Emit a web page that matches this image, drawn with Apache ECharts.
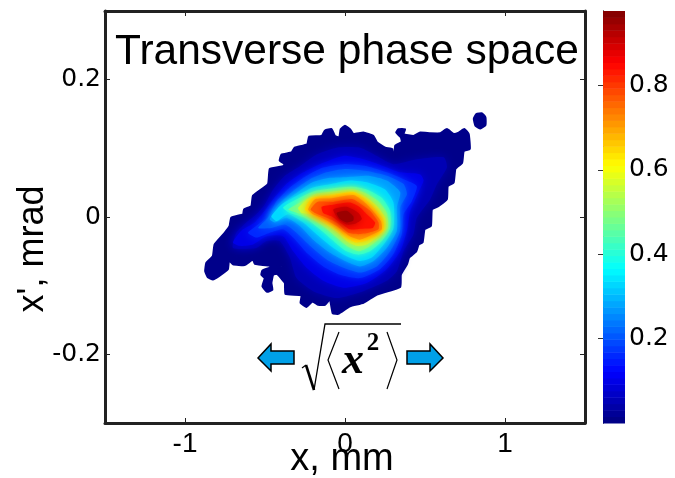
<!DOCTYPE html>
<html><head><meta charset="utf-8">
<style>html,body{margin:0;padding:0;background:#fff}#c{width:675px;height:478px}</style>
<script src="https://cdn.jsdelivr.net/npm/echarts@6/dist/echarts.min.js"></script>
</head><body><div id="c"></div>
<script>
// contour polygons: flat pairs of x (0.001 mm), x' (0.001 mrad)
const level01=[-874,-79,-857,-88,-826,-91,-788,-86,-732,-76,-725,-63,-700,-69,-627,-70,-575,-62,-564,-68,-470,-71,-387,-73,-470,-74,-516,-78,-523,-84,-502,-89,-516,-101,-487,-109,-454,-106,-460,-96,-449,-84,-424,-83,-376,-96,-372,-112,-272,-114,-278,-125,-240,-131,-203,-123,-167,-128,-125,-128,-94,-120,-77,-140,-42,-141,31,-130,115,-125,199,-113,345,-102,349,-84,387,-69,401,-59,445,-50,460,-40,485,-37,497,-18,537,-13,543,11,585,16,637,26,642,45,679,50,690,70,732,79,742,96,780,99,773,121,746,128,711,123,679,121,637,128,596,122,533,122,470,123,428,118,366,121,376,128,334,128,320,123,349,116,355,109,314,104,307,87,299,88,295,99,251,101,199,109,178,118,115,123,52,121,31,128,0,133,-27,128,-36,116,-63,118,-84,128,-125,126,-146,118,-224,117,-236,106,-314,101,-334,94,-397,91,-408,82,-376,77,-387,74,-470,70,-481,48,-575,31,-585,16,-631,11,-637,4,-711,-1,-721,-13,-752,-23,-815,-40,-826,-57,-867,-67];
const island01=[821,150,857,151,878,145,878,134,846,129,815,133,805,143];
const level05=[-700,-45,-679,-23,-617,-8,-554,4,-502,18,-449,40,-376,60,-282,74,-178,91,-52,101,94,101,199,89,303,77,449,84,617,87,637,72,575,48,533,26,449,-1,428,-25,366,-50,324,-79,261,-93,115,-108,-52,-118,-199,-108,-303,-89,-345,-59,-408,-35,-491,-35,-554,-45];
const level10=[-700,-37,-648,-20,-564,-8,-502,9,-449,26,-366,48,-261,65,-157,77,-10,89,115,84,240,74,345,65,470,62,491,53,449,31,408,9,387,-20,345,-50,261,-76,136,-96,-10,-103,-136,-93,-240,-74,-324,-50,-387,-28,-491,-28,-575,-40,-658,-42];
const level16=[-606,-23,-543,-11,-481,1,-428,23,-345,43,-240,60,-136,72,-10,77,136,74,261,65,366,55,449,45,418,23,366,4,355,-25,303,-54,219,-76,94,-89,-31,-84,-136,-72,-240,-52,-324,-30,-387,-18,-470,-23,-554,-30];
const level21=[-543,-16,-481,-1,-418,18,-324,38,-219,55,-115,65,0,70,136,67,261,60,366,48,387,33,345,14,345,-20,282,-50,199,-72,94,-81,-10,-74,-115,-62,-219,-42,-303,-23,-376,-11,-460,-16];
const level27=[-470,-3,-408,16,-314,33,-209,50,-94,57,10,58,146,60,261,53,345,36,324,14,324,-20,261,-45,178,-64,94,-72,0,-64,-94,-52,-199,-33,-282,-13,-366,-1,-439,-8];
const level33=[-460,1,-397,18,-303,31,-199,43,-84,48,31,53,146,50,251,40,303,21,303,-16,251,-37,167,-59,94,-64,10,-57,-73,-45,-178,-25,-261,-8,-355,4,-428,-6];
const level40=[-387,14,-303,26,-188,38,-73,42,52,44,136,40,230,28,282,9,282,-16,230,-35,157,-50,84,-55,10,-50,-63,-37,-157,-18,-251,-1,-345,6];
const level47=[-355,11,-282,21,-188,33,-73,37,52,40,136,34,209,23,261,6,268,-16,215,-31,146,-44,84,-50,10,-42,-52,-30,-136,-13,-240,1,-324,8];
const level55=[-293,13,-219,28,-94,33,52,37,136,28,199,16,251,-1,251,-18,199,-30,136,-40,73,-42,10,-35,-42,-23,-136,-8,-219,4,-272,6];
const level63=[-251,11,-209,27,-94,31,52,36,125,26,178,14,236,-3,240,-19,188,-28,125,-35,63,-37,10,-30,-52,-16,-146,-3,-209,4];
const level70=[-230,11,-188,26,-94,27,52,32,115,23,167,11,224,-6,230,-18,167,-26,94,-33,31,-28,-52,-13,-146,-1,-199,4];
const level77=[-215,11,-173,22,-73,22,48,26,105,18,157,9,209,-8,209,-18,146,-23,84,-25,21,-23,-52,-8,-136,1,-188,6];
const level84=[-146,15,-73,18,31,21,94,14,136,4,188,-8,173,-16,94,-17,31,-18,-31,-8,-84,1,-136,6];
const level90=[-73,11,10,15,84,6,105,-3,63,-10,10,-11,-42,-3];
const level95=[-52,6,10,9,52,1,52,-5,10,-8,-31,-3];

const contourValues=[0.01,0.01,0.05,0.10,0.16,0.21,0.27,0.33,0.40,0.47,0.55,0.63,0.70,0.77,0.84,0.90,0.95];
const contourShapes=[level01,island01,level05,level10,level16,level21,level27,level33,level40,level47,level55,level63,level70,level77,level84,level90,level95];
const xTicks=[-1,0,1];
const yTicks=[-0.2,0,0.2];
const barTicks=[0.2,0.4,0.6,0.8];
const barMax=0.977;
const barSteps=64;

function jet(v){
  const t=Math.min(1,Math.max(0,v/barMax))*4;
  const f=(c)=>Math.round(255*Math.min(1,Math.max(0,1.5-Math.abs(t-c))));
  return 'rgb('+f(3)+','+f(2)+','+f(1)+')';
}
const barData=[];
for(let i=0;i<barSteps;i++)barData.push([i*barMax/barSteps,(i+1)*barMax/barSteps]);

const AXC='#222';
const font='"Liberation Sans", Arial, sans-serif';
const wide='"DejaVu Sans", sans-serif';
const chart=echarts.init(document.getElementById('c'),null,{renderer:'canvas'});
const mirrorTick={inside:true,length:5,lineStyle:{color:AXC,width:1}};
chart.setOption({
  animation:false,
  backgroundColor:'#fff',
  title:{text:'Transverse phase space',left:115,top:31,padding:0,textStyle:{fontFamily:font,fontWeight:'normal',fontSize:42.5,color:'#000'}},
  grid:[
    {left:105,top:11,width:480,height:412,show:false,outerBoundsMode:'none'},
    {left:603,top:11,width:22,height:412,show:false,outerBoundsMode:'none'}
  ],
  xAxis:[
    {gridIndex:0,type:'value',position:'bottom',min:-1.5,max:1.5,splitLine:{show:false},
     axisLine:{lineStyle:{color:AXC,width:3},onZero:false},
     axisTick:{...mirrorTick,customValues:xTicks},
     axisLabel:{customValues:xTicks,fontFamily:font,fontSize:28,color:'#000',margin:7,formatter:v=>String(v)},
     name:'x, mm',nameLocation:'middle',nameGap:18,nameMoveOverlap:false,nameTextStyle:{fontFamily:font,fontSize:38,color:'#000',padding:[0,6,0,0]}},
    {gridIndex:1,type:'value',min:0,max:1,show:false},
    {gridIndex:0,type:'value',position:'top',min:-1.5,max:1.5,splitLine:{show:false},
     axisLine:{lineStyle:{color:AXC,width:3},onZero:false},
     axisTick:{...mirrorTick,customValues:xTicks},
     axisLabel:{show:false}}
  ],
  yAxis:[
    {gridIndex:0,type:'value',position:'left',min:-0.3,max:0.3,splitLine:{show:false},
     axisLine:{lineStyle:{color:AXC,width:3},onZero:false},
     axisTick:{...mirrorTick,customValues:yTicks},
     axisLabel:{customValues:yTicks,fontFamily:wide,fontSize:25,color:'#000',margin:4,formatter:v=>String(v)},
     name:"x', mrad",nameLocation:'middle',nameGap:54,nameMoveOverlap:false,nameTextStyle:{fontFamily:font,fontSize:36,color:'#000',padding:[0,64,0,0]}},
    {gridIndex:1,type:'value',min:0,max:barMax,position:'right',splitLine:{show:false},
     axisLine:{lineStyle:{color:'#333',width:1}},
     axisTick:{inside:true,length:5,lineStyle:{color:'#333',width:1},customValues:barTicks},
     axisLabel:{customValues:barTicks,fontFamily:wide,fontSize:25,color:'#000',margin:4,formatter:v=>v.toFixed(1)}},
    {gridIndex:0,type:'value',position:'right',min:-0.3,max:0.3,splitLine:{show:false},
     axisLine:{lineStyle:{color:AXC,width:3},onZero:false},
     axisTick:{...mirrorTick,customValues:yTicks},
     axisLabel:{show:false}},
    {gridIndex:1,type:'value',min:0,max:barMax,position:'left',splitLine:{show:false},
     axisLine:{lineStyle:{color:'#333',width:1}},
     axisTick:{inside:true,length:5,lineStyle:{color:'#333',width:1},customValues:barTicks},
     axisLabel:{show:false}}
  ],
  series:[
    {type:'custom',xAxisIndex:0,yAxisIndex:0,clip:true,silent:true,
     data:contourValues.map((v,i)=>[i,v]),
     encode:{x:[],y:[]},
     renderItem:(p,api)=>{
       const i=api.value(0),v=api.value(1),s=contourShapes[i],pts=[];
       for(let k=0;k<s.length;k+=2)pts.push(api.coord([s[k]/1000,s[k+1]/1000]));
       const c=jet(v),inner=i>=2;
       return {type:'polygon',shape:{points:pts,smooth:inner?0.2:0.12},
         style:{fill:c,stroke:inner?null:c,lineWidth:inner?0:2,shadowBlur:inner?10:0,shadowColor:c}};
     }},
    {type:'custom',xAxisIndex:1,yAxisIndex:1,silent:true,z:1,
     data:barData,
     encode:{y:[0,1]},
     renderItem:(p,api)=>{
       const a=api.coord([0,api.value(0)]),b=api.coord([1,api.value(1)]);
       return {type:'rect',shape:{x:a[0],y:b[1],width:b[0]-a[0],height:a[1]-b[1]+0.5},
         style:{fill:jet(api.value(0)+barMax/barSteps/2)}};
     }}
  ],
  graphic:[
    {type:'polyline',shape:{points:[[302,368],[306,365]]},style:{stroke:'#000',lineWidth:1.2,fill:'none'},z:60},
    {type:'polyline',shape:{points:[[306,365],[314,390]]},style:{stroke:'#000',lineWidth:2.6,fill:'none'},z:60},
    {type:'polyline',shape:{points:[[314,390],[325,324],[401,324]]},style:{stroke:'#000',lineWidth:1.3,fill:'none'},z:60},
    {type:'polyline',shape:{points:[[339,332],[328,360],[339,389]]},style:{stroke:'#000',lineWidth:1.2,fill:'none'},z:60},
    {type:'polyline',shape:{points:[[387,332],[397,360],[387,389]]},style:{stroke:'#000',lineWidth:1.2,fill:'none'},z:60},
    {type:'text',x:342,y:362,style:{text:'x',fontFamily:'"Liberation Serif",serif',fontStyle:'italic',fontWeight:'bold',fontSize:44,fill:'#000',align:'left',verticalAlign:'middle'},z:60},
    {type:'text',x:373,y:344,style:{text:'2',fontFamily:'"Liberation Serif",serif',fontWeight:'bold',fontSize:25,fill:'#000',align:'center',verticalAlign:'middle'},z:60},
    {type:'polygon',shape:{points:[[258,358],[271,344],[271,351],[294,351],[294,364],[271,364],[271,371]]},style:{fill:'#00a0e8',stroke:'#000',lineWidth:1.5},z:60},
    {type:'polygon',shape:{points:[[407,351],[430,351],[430,344],[443,358],[430,371],[430,364],[407,364]]},style:{fill:'#00a0e8',stroke:'#000',lineWidth:1.5},z:60}
  ]
});
</script></body></html>
